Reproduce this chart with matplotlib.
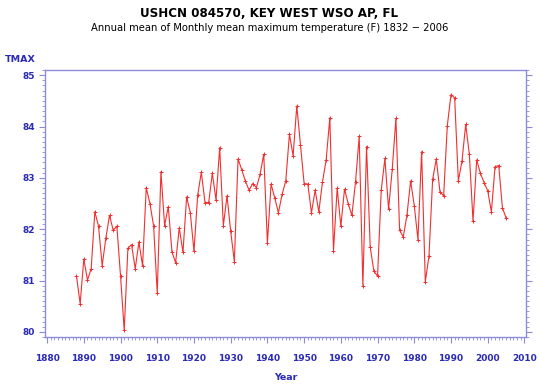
import matplotlib
matplotlib.use("Agg")
import matplotlib.pyplot as plt
from matplotlib.ticker import MultipleLocator

years = list(range(1888, 2006))
tmax = [
    81.09, 80.55, 81.42, 81.01, 81.23, 82.34, 82.06, 81.29, 81.83, 82.27,  # 1888-1897
    81.98, 82.06, 81.09, 80.03, 81.63, 81.70, 81.23, 81.75, 81.29, 82.81,  # 1898-1907
    82.50, 82.07, 80.76, 83.12, 82.07, 82.44, 81.56, 81.35, 82.03, 81.55,  # 1908-1917
    82.63, 82.32, 81.57, 82.66, 83.11, 82.52, 82.52, 83.09, 82.57, 83.59,  # 1918-1927
    82.07, 82.65, 81.96, 81.37, 83.37, 83.16, 82.94, 82.76, 82.89, 82.81,  # 1928-1937
    83.07, 83.46, 81.73, 82.88, 82.61, 82.32, 82.68, 82.94, 83.85, 83.43,  # 1938-1947
    84.40, 83.65, 82.89, 82.88, 82.32, 82.76, 82.34, 82.92, 83.35, 84.17,  # 1948-1957
    81.58, 82.80, 82.06, 82.78, 82.50, 82.27, 82.92, 83.81, 80.90, 83.61,  # 1958-1967
    81.65, 81.18, 81.09, 82.76, 83.38, 82.39, 83.17, 84.16, 81.98, 81.85,  # 1968-1977
    82.27, 82.94, 82.46, 81.80, 83.51, 80.98, 81.47, 82.97, 83.37, 82.73,  # 1978-1987
    82.65, 84.02, 84.62, 84.56, 82.94, 83.33, 84.04, 83.46, 82.16, 83.35,  # 1988-1997
    83.09, 82.91, 82.75, 82.34, 83.22, 83.24, 82.42, 82.22,                # 1998-2005
]
xticks = list(range(1880, 2011, 10))
yticks = [80, 81, 82, 83, 84, 85]

frame_col = "#8c8cd8"
text_blue = "#2a2ab8"

fig = plt.figure(figsize=(5.39, 3.87), dpi=100)
ax = fig.add_axes([0.084, 0.129, 0.891, 0.690])

ax.plot(years, tmax, color="#f03030", linewidth=0.8, marker="+",
        markersize=3, markeredgewidth=0.7)

ax.set_xlim(1879.5, 2010.3)
ax.set_ylim(79.9, 85.1)
ax.set_xticks(xticks)
ax.set_yticks(yticks)
ax.xaxis.set_minor_locator(MultipleLocator(1))
ax.yaxis.set_minor_locator(MultipleLocator(0.1))

for s in ax.spines.values():
    s.set_color(frame_col)
    s.set_linewidth(1.0)

ax.tick_params(axis="both", which="both", direction="out", color=frame_col,
               labelcolor=text_blue, labelsize=6.5)
ax.tick_params(axis="y", which="both", right=True)
ax.tick_params(axis="y", which="major", length=4, width=0.8)
ax.tick_params(axis="y", which="minor", length=2, width=0.6)
ax.tick_params(axis="x", which="major", length=4, width=0.8, pad=8)
ax.tick_params(axis="x", which="minor", length=2, width=0.6)
for lab in ax.get_xticklabels() + ax.get_yticklabels():
    lab.set_fontweight("bold")

fig.text(0.5, 0.965, "USHCN 084570, KEY WEST WSO AP, FL", ha="center", va="center",
         fontsize=8.6, fontweight="bold")
fig.text(0.5, 0.928, "Annual mean of Monthly mean maximum temperature (F) 1832 \u2212 2006",
         ha="center", va="center", fontsize=7.2)
fig.text(0.038, 0.845, "TMAX", ha="center", va="center", fontsize=6.8,
         fontweight="bold", color=text_blue)
fig.text(0.53, 0.025, "Year", ha="center", va="center", fontsize=6.8,
         fontweight="bold", color=text_blue)

fig.savefig("out.png", dpi=100)
